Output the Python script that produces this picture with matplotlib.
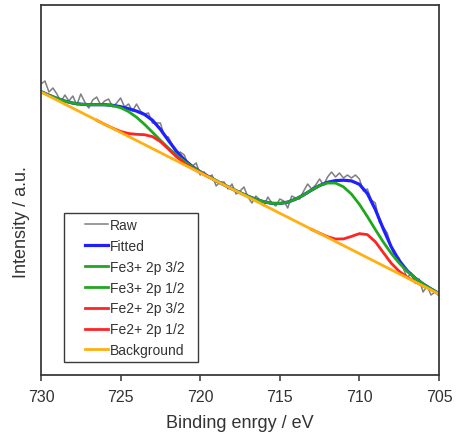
"""
Fe 2p XPS spectrum with fitted components.
"""

import matplotlib
matplotlib.use("Agg")
import matplotlib.pyplot as plt
import numpy as np
from matplotlib.patches import Rectangle

plt.rcParams["font.family"] = ["Liberation Sans", "DejaVu Sans"]

# binding energy grids (eV), high -> low
energy_raw = np.linspace(730, 705, 101)
energy_fit = np.linspace(730, 705, 51)

raw_counts = [
    291, 294, 283, 287, 281, 273, 280, 274, 279, 270, 281, 273, 267, 275, 278, 270, 274,
    276, 268, 272, 277, 268, 271, 264, 271, 264, 261, 262, 252, 252, 252, 239, 238,
    230, 220, 223, 220, 210, 209, 212, 200, 203, 198, 200, 189, 193, 193, 186, 191,
    181, 184, 188, 178, 172, 179, 175, 169, 178, 172, 169, 176, 174, 167, 179, 177,
    176, 184, 191, 186, 190, 196, 190, 198, 203, 198, 202, 197, 200, 197, 200, 196,
    184, 186, 175, 172, 153, 148, 142, 128, 117, 117, 107, 97, 102, 92, 96, 83,
    89, 80, 83, 79,
]

fitted = [
    283.4, 279.8, 276.6, 273.9, 271.9, 270.8, 270.3, 270.3, 270.3, 269.7, 268.3,
    266.3, 263.9, 260.6, 254.8, 245.7, 234.6, 224.0, 215.3, 208.6, 203.3,
    198.6, 194.3, 190.2, 186.2, 182.4, 178.8, 175.7, 173.2, 171.7, 171.5,
    172.9, 175.9, 180.1, 185.0, 189.5, 192.7, 194.4, 194.8, 194.1, 190.7,
    181.5, 165.6, 146.2, 128.2, 114.4, 104.4, 97.0, 91.1, 86.1, 81.5,
]

# components (component + background), each on its own slice of energy_fit
fe3_12 = [  # 730 -> 719
    283.4, 279.8, 276.6, 273.9, 271.9, 270.8, 270.3, 270.3, 270.2, 269.4, 267.3,
    263.4, 257.8, 250.7, 242.8, 234.7, 227.0, 219.9, 213.7, 208.1, 203.2, 198.6, 194.3,
]
fe2_12 = [  # 726.5 -> 719.5
    254.7, 250.7, 246.9, 243.6, 241.5, 240.7, 240.3, 238.4, 233.4, 226.0, 218.4,
    211.9, 206.7, 202.3, 198.2,
]
fe3_32 = [  # 719 -> 705
    194.1, 190.2, 186.2, 182.4, 178.8, 175.7, 173.2, 171.7, 171.5, 172.9, 175.9,
    180.1, 185.0, 189.4, 192.0, 191.9, 188.2, 180.9, 170.7, 158.5, 145.5, 133.0,
    121.6, 111.9, 103.7, 96.9, 91.1, 86.1, 81.5,
]
fe2_32 = [  # 713 -> 706
    145.6, 141.8, 138.3, 136.0, 136.1, 138.6, 141.4, 140.4, 133.3, 122.5, 111.8,
    103.7, 97.9, 93.3, 89.1,
]
bg_energy = [730, 705]
bg_counts = [283, 81]

C_RAW = "#7f7f7f"
C_FIT = "#1f1fff"
C_FE3 = "#1fa81f"
C_FE2 = "#ff2424"
C_BG = "#ffb010"
TXT = "#333333"

fig = plt.figure(figsize=(4.57, 4.35), dpi=100)
ax = fig.add_axes([0.0897, 0.1356, 0.8709, 0.8506])

ax.plot(energy_raw, raw_counts, color=C_RAW, lw=1.1, label="Raw")
ax.plot(energy_fit, fitted, color=C_FIT, lw=2.3, label="Fitted")
ax.plot(energy_fit[22:51], fe3_32, color=C_FE3, lw=2.0, label="Fe3+ 2p 3/2")
ax.plot(energy_fit[0:23], fe3_12, color=C_FE3, lw=2.0, label="Fe3+ 2p 1/2")
ax.plot(energy_fit[34:49], fe2_32, color=C_FE2, lw=2.0, label="Fe2+ 2p 3/2")
ax.plot(energy_fit[7:22], fe2_12, color=C_FE2, lw=2.0, label="Fe2+ 2p 1/2")
ax.plot(bg_energy, bg_counts, color=C_BG, lw=2.0, label="Background")

ax.set_xlim(730, 705)
ax.set_ylim(0, 370)
ax.set_xticks([730, 725, 720, 715, 710, 705])
ax.set_yticks([])
ax.tick_params(axis="x", direction="out", length=4.5, width=1.1, colors=TXT,
               labelsize=11.5, pad=5.5)
for s in ax.spines.values():
    s.set_color("#3a3a3a")
    s.set_linewidth(1.3)

ax.set_xlabel("Binding enrgy / eV", fontsize=13, color=TXT, labelpad=7)
ax.set_ylabel("Intensity / a.u.", fontsize=13, color=TXT)
ax.yaxis.set_label_coords(-0.028, 0.416)

# legend frame drawn separately so the padding matches
ax.add_patch(Rectangle((0.058, 0.035), 0.337, 0.403, transform=ax.transAxes,
                       fill=False, edgecolor="#3a3a3a", lw=1.0, zorder=5))
leg = ax.legend(loc="upper left", bbox_to_anchor=(0.093, 0.444), frameon=False,
                fontsize=10, borderpad=0, labelspacing=0.5, handlelength=1.65,
                handletextpad=0.15, labelcolor=TXT)

fig.savefig("out.png", dpi=100)
